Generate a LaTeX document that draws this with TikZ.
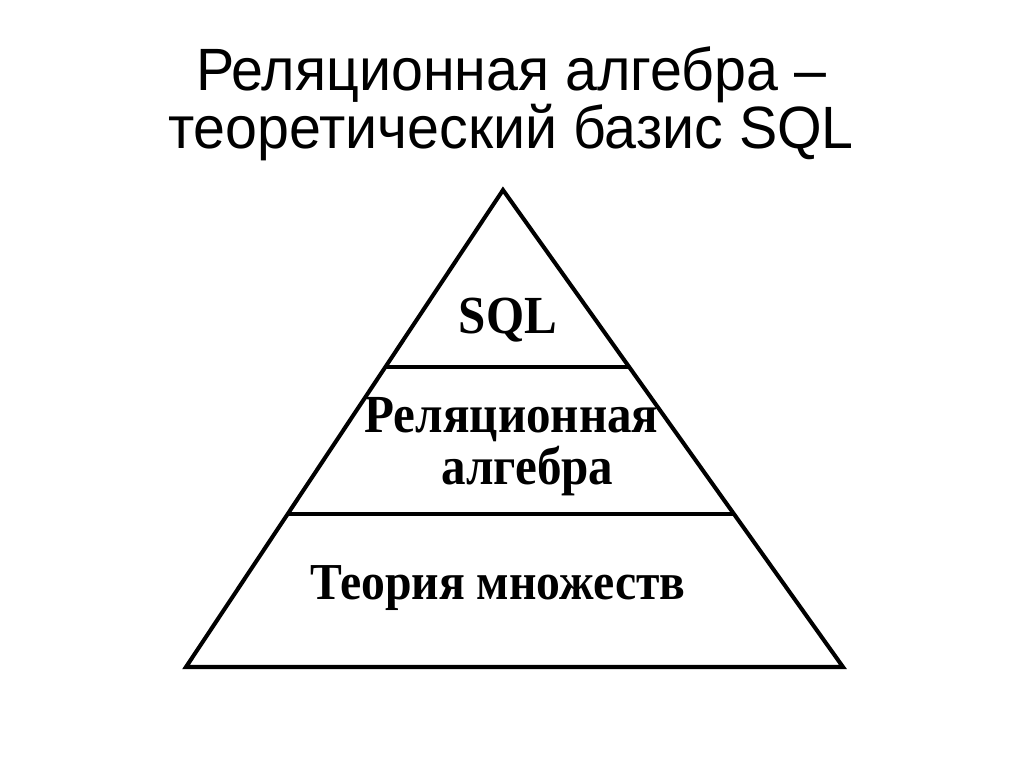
\documentclass[tikz,border=0pt]{standalone}
\usepackage{fontspec}
\setmainfont{Liberation Serif}
\newfontfamily\titlefont{Liberation Sans}
\usetikzlibrary{calc}

% slightly narrow letters, as in the picture
\newcommand{\narrowtext}[2][0.915]{\scalebox{#1}[1]{#2}}

\begin{document}
\begin{tikzpicture}[x=0.02cm, y=-0.02cm,
  level/.style={font=\bfseries\fontsize{30.5}{20.4}\selectfont, align=center, inner sep=0pt, anchor=base},
  edge/.style={line width=2.3pt, line join=miter},
  divider/.style={line width=1.9pt}]

\useasboundingbox (0,0) rectangle (1024,767);

% title
\node[font=\titlefont\fontsize{34}{33.5}\selectfont, align=center, anchor=base, inner sep=0pt] (title) at (511,149)
  {\narrowtext[0.96]{Реляционная алгебра –}\\\narrowtext[0.96]{теоретический базис SQL}};

% pyramid corners
\coordinate (apex) at (503,190);
\coordinate (bl) at (186,667);
\coordinate (br) at (843,667);

\draw[edge] (apex) -- (bl) -- (br) -- cycle;
\draw[line width=2.8pt] (bl) -- (br);

% dividers
\draw[divider] ($(apex)!0.371!(bl)$) -- ($(apex)!0.371!(br)$);
\draw[divider] ($(apex)!0.679!(bl)$) -- ($(apex)!0.679!(br)$);

\node[level] (sql) at (508,333) {\narrowtext{SQL}};
\node[level] (ra) at (511.5,484) {\narrowtext{Реляционная}\\[1pt]\hspace*{18pt}\narrowtext{алгебра}};
\node[level, font=\bfseries\fontsize{29.5}{30}\selectfont] (sets) at (498,599) {\narrowtext[0.92]{Теория множеств}};

\end{tikzpicture}
\end{document}
